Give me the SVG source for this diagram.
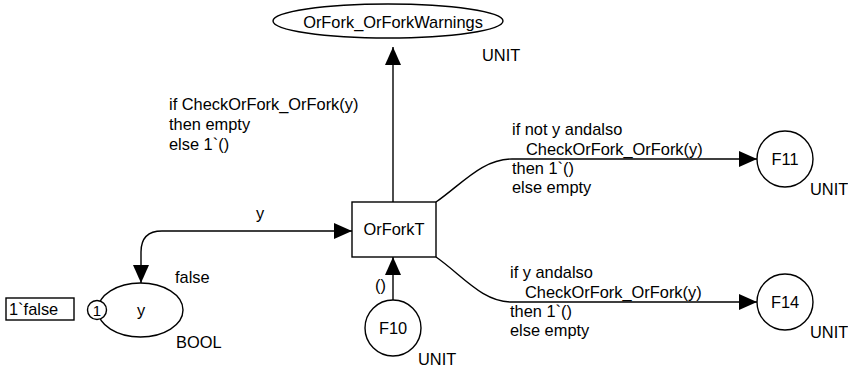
<svg xmlns="http://www.w3.org/2000/svg" width="848" height="367" viewBox="0 0 848 367">
  <defs>
    <marker id="arrow" markerUnits="userSpaceOnUse" markerWidth="18" markerHeight="16" refX="18" refY="8" orient="auto-start-reverse">
      <path d="M0,0 L18,8 L0,16 Z" fill="#000"/>
    </marker>
  </defs>
  <style>
    text { font-family: "Liberation Sans", Arial, sans-serif; font-size: 16.4px; fill: #000; }
    .mid { text-anchor: middle; }
    .tok { font-size: 15px; }
    .shape { fill: #fff; stroke: #000; stroke-width: 1.4; }
    .arc { fill: none; stroke: #000; stroke-width: 1.4; }
  </style>

  <rect width="848" height="367" fill="#fff"/>

  <!-- arcs -->
  <g id="connectors">
    <path class="arc" d="M352,231 L162,231 Q141,231 141,252 L141,283" marker-start="url(#arrow)" marker-end="url(#arrow)"/>
    <path class="arc" d="M393,202 L393,47" marker-end="url(#arrow)"/>
    <path class="arc" d="M393,300 L393,257" marker-end="url(#arrow)"/>
    <path class="arc" d="M436,202 C462,184 482,159 512,159 L757,159" marker-end="url(#arrow)"/>
    <path class="arc" d="M436,257 C462,275 482,302 512,302 L757,302" marker-end="url(#arrow)"/>

    <text x="256" y="219">y</text>
    <text x="375" y="291">()</text>
    <text x="169" y="110">if CheckOrFork_OrFork(y)</text>
    <text x="169" y="130">then empty</text>
    <text x="169" y="150">else 1`()</text>
    <text x="512" y="135">if not y andalso</text>
    <text x="526" y="155">CheckOrFork_OrFork(y)</text>
    <text x="512" y="174">then 1`()</text>
    <text x="512" y="193">else empty</text>
    <text x="510" y="278">if y andalso</text>
    <text x="525" y="298">CheckOrFork_OrFork(y)</text>
    <text x="510" y="317">then 1`()</text>
    <text x="510" y="336">else empty</text>
  </g>

  <!-- places -->
  <g id="OrFork_OrForkWarnings">
    <ellipse class="shape" cx="388" cy="21" rx="115" ry="17"/>
    <text class="mid" x="393" y="27.5">OrFork_OrForkWarnings</text>
    <text x="482" y="61">UNIT</text>
  </g>

  <g id="y">
    <ellipse class="shape" cx="140.5" cy="310" rx="42.5" ry="27"/>
    <text class="mid" x="141" y="316">y</text>
    <text x="175" y="283">false</text>
    <text x="176" y="348">BOOL</text>
    <circle class="shape" cx="97" cy="310" r="9.5"/>
    <text class="mid tok" x="97" y="315.5">1</text>
    <rect class="shape" x="6" y="298" width="68" height="22"/>
    <text x="9" y="315">1`false</text>
  </g>

  <g id="F10">
    <circle class="shape" cx="393" cy="328" r="28"/>
    <text class="mid" x="393" y="334">F10</text>
    <text x="418" y="365">UNIT</text>
  </g>

  <g id="F11">
    <circle class="shape" cx="785" cy="159" r="28"/>
    <text class="mid" x="785" y="165">F11</text>
    <text x="810" y="195">UNIT</text>
  </g>

  <g id="F14">
    <circle class="shape" cx="785" cy="302" r="28"/>
    <text class="mid" x="785" y="308">F14</text>
    <text x="810" y="338">UNIT</text>
  </g>

  <!-- transition -->
  <g id="OrForkT">
    <rect class="shape" x="352" y="202" width="84" height="55"/>
    <text class="mid" x="394" y="235">OrForkT</text>
  </g>
</svg>
